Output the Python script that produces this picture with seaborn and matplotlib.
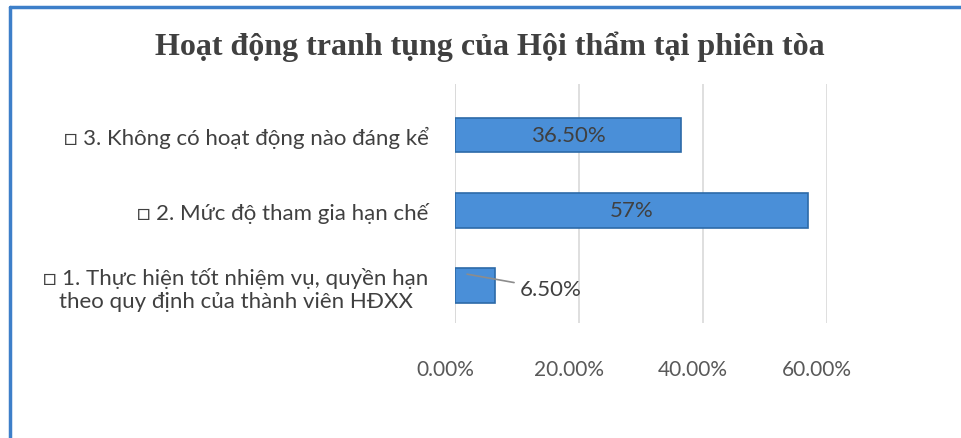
import matplotlib
matplotlib.use("Agg")
import matplotlib.pyplot as plt
import matplotlib.transforms as mtransforms
import seaborn as sns
import pandas as pd
from matplotlib.lines import Line2D

categories = [
    "□ 3. Không có hoạt động nào đáng kể",
    "□ 2. Mức độ tham gia hạn chế",
    "□ 1. Thực hiện tốt nhiệm vụ, quyền hạn\ntheo quy định của thành viên HĐXX",
]
values = [36.5, 57.0, 6.5]
value_labels = ["36.50%", "57%", "6.50%"]
xticks = [0, 20, 40, 60]
xtick_labels = ["0.00%", "20.00%", "40.00%", "60.00%"]
title = "Hoạt động tranh tụng của Hội thẩm tại phiên tòa"

sns.set_theme(style="white")
plt.rcParams["font.family"] = ["Lato", "DejaVu Sans"]

df = pd.DataFrame({"cat": categories, "val": values})

fig = plt.figure(figsize=(9.62, 4.39), dpi=100)
fig.patch.set_facecolor("white")
ax = fig.add_axes([455 / 962, 1 - 324 / 439, 372 / 962, (324 - 85) / 439])

sns.barplot(data=df, x="val", y="cat", orient="h", ax=ax, color="#4a8fd8",
            width=0.46, edgecolor="#2c6aa8", linewidth=1.2, saturation=1)

ax.set_xlim(0, 60)
ax.set_ylim(2.5, -0.68)
ax.set_xticks(xticks)
ax.set_xticklabels(xtick_labels, fontsize=15, color="#595959")
ax.tick_params(axis="x", length=0, pad=26)
ax.tick_params(axis="y", length=0, pad=19)
shift = mtransforms.ScaledTranslation(-10 / 100, 0, fig.dpi_scale_trans)
for lab in ax.get_xticklabels():
    lab.set_transform(lab.get_transform() + shift)
for lab in ax.get_yticklabels():
    lab.set_fontsize(16)
    lab.set_color("#404040")
    lab.set_multialignment("center")
ax.set_xlabel("")
ax.set_ylabel("")
for s in ax.spines.values():
    s.set_visible(False)
ax.set_axisbelow(True)
ax.grid(axis="x", color="#d9d9d9", linewidth=1.2)
ax.grid(axis="y", visible=False)
ax.axvline(0, color="#d9d9d9", linewidth=1.2, zorder=0)

# value labels
for i, (v, t) in enumerate(zip(values, value_labels)):
    if v > 20:
        ax.text(v / 2, i, t, ha="center", va="center", fontsize=16, color="#404040")
    else:
        ax.annotate(t, xy=(v * 0.3, i - 0.15), xytext=(v + 4.0, i + 0.05),
                    ha="left", va="center", fontsize=16, color="#404040",
                    arrowprops=dict(arrowstyle="-", color="#8c8c8c", lw=1.2,
                                    shrinkA=2, shrinkB=0))

fig.text(490 / 962, 1 - 47 / 439, title, ha="center", va="center",
         fontsize=23, fontweight="bold", color="#404040",
         family=["Liberation Serif", "DejaVu Serif"])

# frame border (blue left and top)
fig.add_artist(Line2D([10 / 962, 10 / 962], [0, 1 - 8 / 439], color="#3d7fc9",
                      linewidth=2.5, transform=fig.transFigure))
fig.add_artist(Line2D([10 / 962, 1], [1 - 8 / 439, 1 - 8 / 439], color="#3d7fc9",
                      linewidth=2.5, transform=fig.transFigure))

fig.savefig("out.png", dpi=100, facecolor="white")
